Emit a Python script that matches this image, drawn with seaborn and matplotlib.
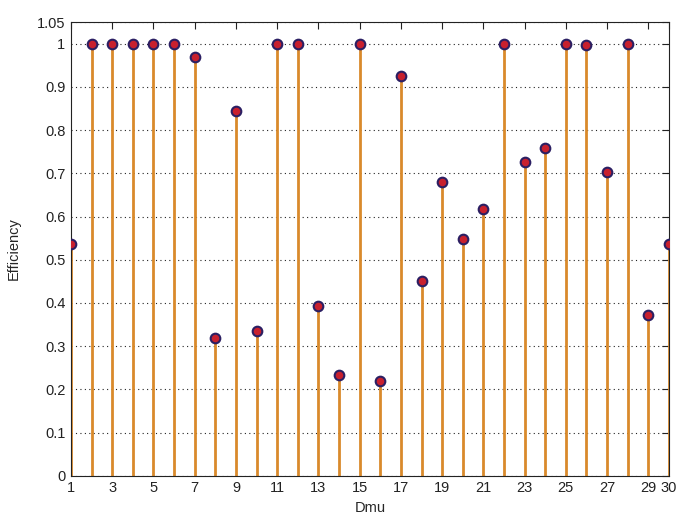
import numpy as np
import pandas as pd
import seaborn as sns
import matplotlib
matplotlib.use("Agg")
import matplotlib.pyplot as plt

dmu = list(range(1, 31))
efficiency = [0.537, 1.0, 1.0, 1.0, 1.0, 1.0, 0.970, 0.320, 0.845, 0.334,
              1.0, 1.0, 0.392, 0.233, 1.0, 0.219, 0.926, 0.452, 0.680, 0.548,
              0.617, 1.0, 0.726, 0.758, 1.0, 0.998, 0.703, 1.0, 0.371, 0.537]
xticks = [1, 3, 5, 7, 9, 11, 13, 15, 17, 19, 21, 23, 25, 27, 29, 30]
yticks = [0, 0.1, 0.2, 0.3, 0.4, 0.5, 0.6, 0.7, 0.8, 0.9, 1.0, 1.05]
ylabels = ["0", "0.1", "0.2", "0.3", "0.4", "0.5", "0.6", "0.7", "0.8", "0.9", "1", "1.05"]

df = pd.DataFrame({"Dmu": dmu, "Efficiency": efficiency})

sns.set_style("white")
plt.rcParams['font.family'] = ['Liberation Sans', 'DejaVu Sans']

fig = plt.figure(figsize=(6.76, 5.16), dpi=100)
ax = fig.add_axes([0.105, 0.078, 0.8846, 0.879])

ax.vlines(df["Dmu"], 0, df["Efficiency"], color="#d98a2b", linewidth=2.0, zorder=2)
sns.scatterplot(data=df, x="Dmu", y="Efficiency", ax=ax, s=48, color="#c8202e",
                edgecolor="#2b1f63", linewidth=1.5, zorder=3, legend=False)

ax.set_xlim(1, 30)
ax.set_ylim(0, 1.05)
ax.set_xticks(xticks)
ax.set_xticklabels([str(t) for t in xticks])
ax.set_yticks(yticks)
ax.set_yticklabels(ylabels)
ax.tick_params(direction="in", length=5, width=0.8, top=True, right=True,
               labelsize=10.5, colors="#222222", pad=4)
ax.yaxis.grid(True, linestyle=(0, (1, 3)), color="#222222", linewidth=0.8)
ax.xaxis.grid(False)
ax.set_axisbelow(True)
for sp in ax.spines.values():
    sp.set_color("#222222")
    sp.set_linewidth(0.8)
ax.set_xlabel("Dmu", fontsize=10.5, labelpad=4)
ax.set_ylabel("Efficiency", fontsize=10.5, labelpad=12)

fig.savefig("out.png", dpi=100)
